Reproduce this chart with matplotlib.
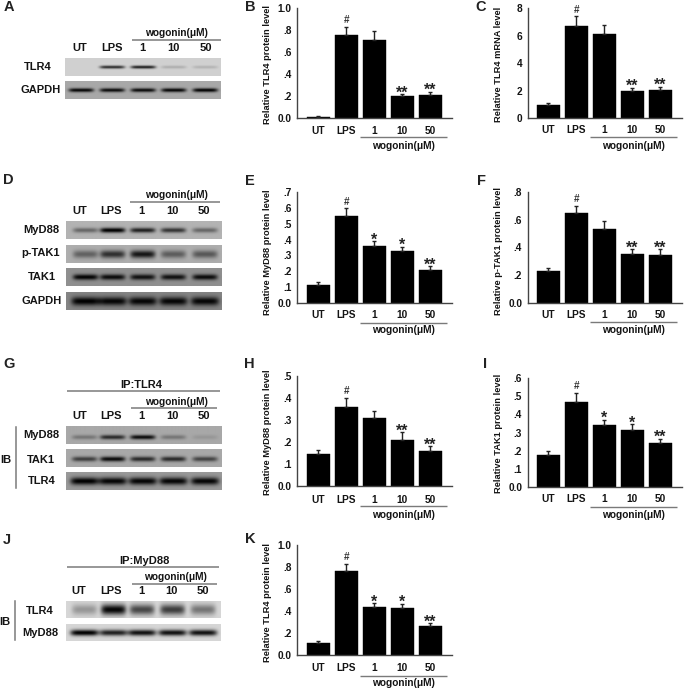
import numpy as np
import matplotlib
matplotlib.use("Agg")
import matplotlib.pyplot as plt

plt.rcParams['font.family'] = ['Liberation Sans', 'DejaVu Sans']
plt.rcParams['font.weight'] = 'bold'

W, H = 685, 689
TXT = '#141414'
LINE = '#7a7a7a'

groups = ['UT', 'LPS', '1', '10', '50']

b_vals = [0.01, 0.75, 0.71, 0.195, 0.205]
b_errs = [0.002, 0.08, 0.08, 0.02, 0.03]
b_marks = ['', '#', '', '**', '**']
b_ticks = ['0.0', '.2', '.4', '.6', '.8', '1.0']

c_vals = [1.0, 6.7, 6.1, 1.95, 2.05]
c_errs = [0.1, 0.7, 0.7, 0.25, 0.25]
c_marks = ['', '#', '', '**', '**']
c_ticks = ['0', '2', '4', '6', '8']

e_vals = [0.11, 0.55, 0.36, 0.325, 0.21]
e_errs = [0.02, 0.05, 0.03, 0.03, 0.02]
e_marks = ['', '#', '*', '*', '**']
e_ticks = ['0.0', '.1', '.2', '.3', '.4', '.5', '.6', '.7']

f_vals = [0.23, 0.65, 0.535, 0.355, 0.345]
f_errs = [0.02, 0.05, 0.055, 0.03, 0.04]
f_marks = ['', '#', '', '**', '**']
f_ticks = ['0.0', '.2', '.4', '.6', '.8']

h_vals = [0.145, 0.36, 0.31, 0.21, 0.16]
h_errs = [0.02, 0.04, 0.03, 0.035, 0.02]
h_marks = ['', '#', '', '**', '**']
h_ticks = ['0.0', '.1', '.2', '.3', '.4', '.5']

i_vals = [0.18, 0.47, 0.34, 0.315, 0.245]
i_errs = [0.02, 0.05, 0.03, 0.03, 0.02]
i_marks = ['', '#', '*', '*', '**']
i_ticks = ['0.0', '.1', '.2', '.3', '.4', '.5', '.6']

k_vals = [0.11, 0.76, 0.44, 0.425, 0.26]
k_errs = [0.02, 0.07, 0.03, 0.04, 0.03]
k_marks = ['', '#', '*', '*', '**']
k_ticks = ['0.0', '.2', '.4', '.6', '.8', '1.0']

# Band strength per lane for each blot strip
a_tlr4 = [0.0, 0.66, 0.72, 0.14, 0.12]
a_gapdh = [0.64, 0.62, 0.62, 0.64, 0.66]
d_myd88 = [0.3, 0.72, 0.58, 0.5, 0.3]
d_ptak1 = [0.3, 0.5, 0.6, 0.32, 0.34]
d_tak1 = [0.55, 0.52, 0.5, 0.5, 0.52]
d_gapdh = [0.52, 0.5, 0.5, 0.5, 0.5]
g_myd88 = [0.2, 0.5, 0.62, 0.2, 0.07]
g_tak1 = [0.42, 0.62, 0.5, 0.5, 0.4]
g_tlr4 = [0.6, 0.58, 0.58, 0.58, 0.58]
j_tlr4 = [0.25, 0.82, 0.56, 0.6, 0.38]
j_myd88 = [0.85, 0.72, 0.78, 0.78, 0.78]

fig = plt.figure(figsize=(W / 100, H / 100), dpi=100)
ov = fig.add_axes([0, 0, 1, 1], zorder=0)
ov.set_axis_off()


def blot(x0, x1, y0, y1, centers, vals, bg, thick=2.2, half=12.5, cy=0.5):
    xs = np.arange(x0, x1, 0.5)
    ys = np.arange(y0, y1, 0.5)
    X, Y = np.meshgrid(xs, ys)
    img = np.full(X.shape, float(bg))
    yc = y0 + (y1 - y0) * cy
    for c, v in zip(centers, vals):
        img -= v * np.exp(-((Y - yc) / thick) ** 2) * np.exp(-((X - c) / half) ** 6)
    ov.imshow(np.clip(img, 0, 1), cmap='gray', vmin=0, vmax=1, extent=[x0, x1, y1, y0],
              aspect='auto', interpolation='bilinear', zorder=1)


def t(x, y, s, size=7.3, color=TXT, **kw):
    ov.text(x, y, s, fontsize=size, color=color, ha='center', va='center', fontweight='bold', **kw)


def hline(x0, x1, y, lw=1.1):
    ov.plot([x0, x1], [y, y], color=LINE, lw=lw, solid_capstyle='butt', zorder=2)


def bar_panel(x_spine, x_first, x_end, y_top, y_base, ymax, ticks, vals, errs, marks, ylabel, yl_x, yl_y,
              step=28.0, lab_pad=6.0, line_dy=19.5, word_dy=28.5):
    left, right = x_spine / W, x_end / W
    bottom, top = 1 - y_base / H, 1 - y_top / H
    ax = fig.add_axes([left, bottom, right - left, top - bottom], zorder=3)
    ax.patch.set_alpha(0)
    ax.set_xlim((x_spine - x_first) / step, (x_end - x_first) / step)
    ax.set_ylim(0, ymax)
    xs = np.arange(len(vals))
    ax.bar(xs, vals, width=0.83, color='black', edgecolor='black', linewidth=0.3,
           yerr=[np.zeros(len(vals)), errs], error_kw=dict(ecolor='#222222', elinewidth=1.0, capsize=1.6, capthick=1.0))
    for sp in ('top', 'right'):
        ax.spines[sp].set_visible(False)
    for sp in ('left', 'bottom'):
        ax.spines[sp].set_color('#444444')
        ax.spines[sp].set_linewidth(1.0)
    ax.set_xticks(xs)
    ax.set_xticklabels(groups, fontsize=7.3, color=TXT, fontweight='bold')
    ax.tick_params(axis='x', length=0, pad=lab_pad)
    ax.set_yticks(np.linspace(0, ymax, len(ticks)))
    ax.set_yticklabels(ticks, fontsize=7.3, color=TXT, fontweight='bold')
    ax.tick_params(axis='y', length=0, pad=4)
    for x, v, e, m in zip(xs, vals, errs, marks):
        if m == '#':
            ax.annotate(m, (x, v + e), xytext=(0, 1.0), textcoords='offset points', ha='center', va='bottom',
                        fontsize=7.2, color='#333333', fontweight='bold')
        elif m:
            ax.annotate(m, (x, v + e), xytext=(0, -4.5), textcoords='offset points', ha='center', va='bottom',
                        fontsize=11.5, color='#222222', fontweight='bold')
    ov.text(yl_x, yl_y, ylabel, rotation=90, fontsize=6.7, color=TXT, ha='center', va='center', fontweight='bold')
    lx0 = x_first + 41.5
    hline(lx0, lx0 + 87.5, y_base + line_dy, lw=1.0)
    t(lx0 + 44, y_base + word_dy, 'wogonin(μM)')


# Panel letters
for s, x, y in [('A', 9, 7), ('B', 250, 7), ('C', 480.7, 7), ('D', 8.7, 180), ('E', 250, 180.7),
                ('F', 481.7, 180.7), ('G', 9.3, 364.3), ('H', 249.3, 364), ('I', 485, 364),
                ('J', 7.3, 539.7), ('K', 250, 539.3)]:
    t(x, y, s, size=10.5, color='#222222')

BL = 8.0
# Panel A
lanes_a = [81, 112, 143, 173.5, 205]
t(176.7, 32.7, 'wogonin(μM)')
hline(132, 221, 39.7)
for x, s in zip([80, 112, 142.7, 173.3, 205.5], groups):
    t(x, 48, s, size=BL)
blot(65, 221, 58.3, 76, lanes_a, a_tlr4, 0.82, thick=1.5)
blot(65, 221, 81.7, 99, lanes_a, a_gapdh, 0.66, thick=1.9)
t(38, 67.5, 'TLR4', size=BL)
t(41, 89.7, 'GAPDH', size=BL)

# Panel D
lanes_d = [85, 112, 142, 172.5, 204]
t(176.7, 195, 'wogonin(μM)')
hline(130.5, 220, 202.3)
for x, s in zip([79.5, 111.5, 141.7, 172.7, 204.3], groups):
    t(x, 210.5, s, size=BL)
blot(65.7, 221, 221, 239, lanes_d, d_myd88, 0.70, thick=2.4)
blot(65.7, 221, 244.7, 262.7, lanes_d, d_ptak1, 0.68, thick=3.8)
blot(65.7, 221, 268.3, 286, lanes_d, d_tak1, 0.56, thick=2.8)
blot(65.7, 221, 292, 310, lanes_d, d_gapdh, 0.52, thick=4.2, half=14)
t(41, 230, 'MyD88', size=BL)
t(41, 253.3, 'p-TAK1', size=BL)
t(42, 277, 'TAK1', size=BL)
t(41.7, 300.7, 'GAPDH', size=BL)

# Panel G
lanes_g = [84, 112, 142, 172.5, 204]
t(141, 385, 'IP:TLR4', size=BL)
hline(67.3, 220, 391)
t(176.7, 401.7, 'wogonin(μM)')
hline(131, 216.7, 408.3)
for x, s in zip([79.3, 111, 141.7, 172.7, 204], groups):
    t(x, 416.3, s, size=BL)
blot(65.7, 221, 426.7, 444.3, lanes_g, g_myd88, 0.66, thick=2.2, cy=0.62)
blot(65.7, 221, 450, 467.3, lanes_g, g_tak1, 0.66, thick=2.4, cy=0.55)
blot(65.7, 221, 472.7, 490, lanes_g, g_tlr4, 0.60, thick=3.6, half=14)
t(41, 435, 'MyD88', size=BL)
t(41, 460, 'TAK1', size=BL)
t(41.7, 480.7, 'TLR4', size=BL)
t(6, 460, 'IB', size=BL)
ov.plot([15.7, 15.7], [426.7, 487.7], color=LINE, lw=1.1, zorder=2)

# Panel J
lanes_j = [84, 113, 141.5, 172, 202.5]
t(144.3, 561, 'IP:MyD88', size=BL)
hline(66.7, 219, 567)
t(175.7, 576.7, 'wogonin(μM)')
hline(131.7, 217.3, 583.7)
for x, s in zip([79, 111, 141, 171.7, 202.7], groups):
    t(x, 591, s, size=BL)
blot(65.7, 220.7, 601, 617.7, lanes_j, j_tlr4, 0.84, thick=5.2)
blot(65.7, 220.7, 623.7, 640.7, lanes_j, j_myd88, 0.84, thick=3.0, half=14)
t(40, 610.7, 'TLR4', size=BL)
t(40, 632.7, 'MyD88', size=BL)
t(5, 621.7, 'IB', size=BL)
ov.plot([15, 15], [601, 640], color=LINE, lw=1.1, zorder=2)

# Bar panels
bar_panel(297.3, 318.2, 451.7, 8, 117.7, 1.0, b_ticks, b_vals, b_errs, b_marks,
          'Relative TLR4 protein level', 267.5, 64.5)
bar_panel(527.7, 548.4, 682, 8, 118.3, 8, c_ticks, c_vals, c_errs, c_marks,
          'Relative TLR4 mRNA level', 499, 64, lab_pad=5.0, line_dy=18.4, word_dy=27.7)
bar_panel(297.3, 318.2, 451.7, 192.3, 302.7, 0.7, e_ticks, e_vals, e_errs, e_marks,
          'Relative MyD88 protein level', 267.5, 252.3, lab_pad=5.0, line_dy=20, word_dy=27.5)
bar_panel(527.7, 548.4, 682, 192, 302.7, 0.8, f_ticks, f_vals, f_errs, f_marks,
          'Relative p-TAK1 protein level', 499, 251, lab_pad=5.0, line_dy=19, word_dy=27.3)
bar_panel(297.3, 318.2, 451.7, 375.7, 486.3, 0.5, h_ticks, h_vals, h_errs, h_marks,
          'Relative MyD88 protein level', 267.5, 432)
bar_panel(527.7, 548.4, 682, 378, 487.3, 0.6, i_ticks, i_vals, i_errs, i_marks,
          'Relative TAK1 protein level', 499, 433, lab_pad=5.0, line_dy=19.4, word_dy=27.7)
bar_panel(297.3, 318.2, 451.7, 545, 655, 1.0, k_ticks, k_vals, k_errs, k_marks,
          'Relative TLR4 protein level', 267.5, 602, line_dy=20.7)

ov.set_xlim(0, W)
ov.set_ylim(H, 0)
fig.savefig('out.png', dpi=100)
